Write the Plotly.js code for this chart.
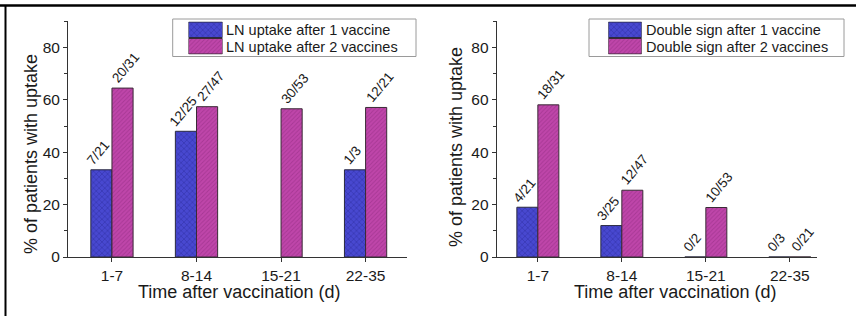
<!DOCTYPE html>
<html><head><meta charset="utf-8">
<script src="https://cdn.plot.ly/plotly-3.0.1.min.js"></script>
<style>html,body{margin:0;padding:0;background:#fff;}</style>
</head><body>
<div id="chart" style="width:856px;height:316px;"></div>
<script>
// ---- data ----
var categories = ['1-7', '8-14', '15-21', '22-35'];
var lnOneVaccine = [33.3, 48.0, null, 33.3];
var lnTwoVaccines = [64.5, 57.4, 56.6, 57.1];
var lnOneLabels = ['7/21', '12/25', '', '1/3'];
var lnTwoLabels = ['20/31', '27/47', '30/53', '12/21'];
var dsOneVaccine = [19.0, 12.0, 0, 0];
var dsTwoVaccines = [58.1, 25.5, 18.9, 0];
var dsOneLabels = ['4/21', '3/25', '0/2', '0/3'];
var dsTwoLabels = ['18/31', '12/47', '10/53', '0/21'];
var leftLegend = ['LN uptake after 1 vaccine', 'LN uptake after 2 vaccines'];
var rightLegend = ['Double sign after 1 vaccine', 'Double sign after 2 vaccines'];
var xTitle = 'Time after vaccination (d)';
var yTitle = '% of patients with uptake';
var yTickVals = [0, 20, 40, 60, 80];

// ---- styles ----
var W = 856, H = 316;
var FONT = 'Liberation Sans, Arial, sans-serif';
var TXT = '#1a1a1a';
var blueStyle = {color: '#4848d0', line: {color: '#2a2a40', width: 1},
  pattern: {shape: 'x', fgcolor: '#22228a', size: 4, solidity: 0.3, fillmode: 'overlay'}};
var magStyle = {color: '#bf46aa', line: {color: '#3a2a36', width: 1},
  pattern: {shape: '/', fgcolor: '#8e2a7e', size: 3, solidity: 0.3, fillmode: 'overlay'}};
function px(x){return x / W;}
function py(y){return 1 - y / H;}

function barTrace(vals, style, xa, ya){
  return {type: 'bar', x: categories, y: vals, xaxis: xa, yaxis: ya,
    marker: style, showlegend: false, hoverinfo: 'none'};
}
function swatch(yv, style, xa, ya){
  return {type: 'bar', orientation: 'h', x: [1], y: [yv], width: 0.94, xaxis: xa, yaxis: ya,
    marker: style, showlegend: false, hoverinfo: 'none'};
}
// value labels placed at each bar's top through the axis scales
function barLabels(vals, labels, xa, ya, shift){
  var out = [];
  for (var i = 0; i < categories.length; i++){
    if (!labels[i] || vals[i] === null) continue;
    out.push({text: labels[i], xref: xa, yref: ya, x: categories[i], y: vals[i],
      xshift: shift, yshift: 1, xanchor: 'center', yanchor: 'bottom', textangle: -50,
      showarrow: false, borderpad: 0, font: {family: FONT, size: 13.5, color: TXT}});
  }
  return out;
}

var data = [
  barTrace(lnOneVaccine, blueStyle, 'x', 'y'),
  barTrace(lnTwoVaccines, magStyle, 'x', 'y'),
  barTrace(dsOneVaccine, blueStyle, 'x2', 'y2'),
  barTrace(dsTwoVaccines, magStyle, 'x2', 'y2'),
  swatch(1, blueStyle, 'x3', 'y3'), swatch(0, magStyle, 'x3', 'y3'),
  swatch(1, blueStyle, 'x4', 'y4'), swatch(0, magStyle, 'x4', 'y4')
];

function xAxis(domain, range, anchor){
  return {domain: domain, range: range, anchor: anchor, type: 'category',
    showline: true, linecolor: '#333', linewidth: 1, mirror: false,
    ticks: 'outside', ticklen: 4, tickcolor: '#333', showgrid: false, zeroline: false,
    tickfont: {family: FONT, size: 15.5, color: TXT}};
}
function yAxis(domain, anchor){
  return {domain: domain, range: [0, 90], anchor: anchor,
    showline: true, linecolor: '#333', linewidth: 1,
    ticks: 'outside', ticklen: 4, tickcolor: '#333', tickmode: 'array', tickvals: yTickVals,
    minor: {ticks: 'outside', ticklen: 3, tickcolor: '#333', dtick: 10, showgrid: false},
    showgrid: false, zeroline: false,
    tickfont: {family: FONT, size: 15.5, color: TXT}};
}
function hidden(domain, range, anchor){
  return {domain: domain, range: range, anchor: anchor, visible: false, fixedrange: true};
}
function note(text, x, y, opts){
  var a = {text: text, xref: 'paper', yref: 'paper', x: px(x), y: py(y), xanchor: 'left', yanchor: 'middle',
    showarrow: false, borderpad: 0, font: {family: FONT, size: 14.5, color: TXT}};
  for (var k in opts) a[k] = opts[k];
  return a;
}

var yDom = [py(257), py(21.3)];
var titleFont = {family: FONT, size: 18, color: TXT};
var annotations = [
  note(leftLegend[0], 225, 30),
  note(leftLegend[1], 225, 46.5),
  note(rightLegend[0], 645, 30),
  note(rightLegend[1], 645, 46.5),
  note(xTitle, 239, 292, {xanchor: 'center', font: titleFont}),
  note(xTitle, 675, 292, {xanchor: 'center', font: titleFont}),
  note(yTitle, 31, 154, {xanchor: 'center', textangle: -90, font: titleFont}),
  note(yTitle, 456, 147, {xanchor: 'center', textangle: -90, font: titleFont})
].concat(
  barLabels(lnOneVaccine, lnOneLabels, 'x', 'y', -13.5),
  barLabels(lnTwoVaccines, lnTwoLabels, 'x', 'y', 14),
  barLabels(dsOneVaccine, dsOneLabels, 'x2', 'y2', -13.5),
  barLabels(dsTwoVaccines, dsTwoLabels, 'x2', 'y2', 13)
);

var layout = {
  width: W, height: H, margin: {l: 0, r: 0, t: 0, b: 0},
  paper_bgcolor: '#fff', plot_bgcolor: 'rgba(0,0,0,0)',
  barmode: 'group', bargap: 0.5, bargroupgap: 0,
  showlegend: false,
  xaxis: xAxis([px(68), px(407)], [-0.52, 3.49], 'y'),
  yaxis: yAxis(yDom, 'x'),
  xaxis2: xAxis([px(496.7), px(816.7)], [-0.49, 3.32], 'y2'),
  yaxis2: yAxis(yDom, 'x2'),
  xaxis3: hidden([px(188.5), px(222.5)], [0, 1], 'y3'),
  yaxis3: hidden([py(54.5), py(21.5)], [-0.5, 1.5], 'x3'),
  xaxis4: hidden([px(608.3), px(641.7)], [0, 1], 'y4'),
  yaxis4: hidden([py(54.5), py(21.5)], [-0.5, 1.5], 'x4'),
  shapes: [
    {type: 'line', xref: 'paper', yref: 'paper', x0: 0, x1: 1, y0: py(5.5), y1: py(5.5), line: {color: '#000', width: 2.5}},
    {type: 'line', xref: 'paper', yref: 'paper', x0: px(5.5), x1: px(5.5), y0: py(5.5), y1: 0, line: {color: '#000', width: 2}},
    {type: 'rect', xref: 'paper', yref: 'paper', x0: px(172.7), x1: px(416), y0: py(56.5), y1: py(19), line: {color: '#9a9a9a', width: 1}},
    {type: 'rect', xref: 'paper', yref: 'paper', x0: px(589), x1: px(844), y0: py(56.5), y1: py(19), line: {color: '#9a9a9a', width: 1}}
  ],
  annotations: annotations
};
Plotly.newPlot('chart', data, layout, {staticPlot: true});
</script>
</body></html>
